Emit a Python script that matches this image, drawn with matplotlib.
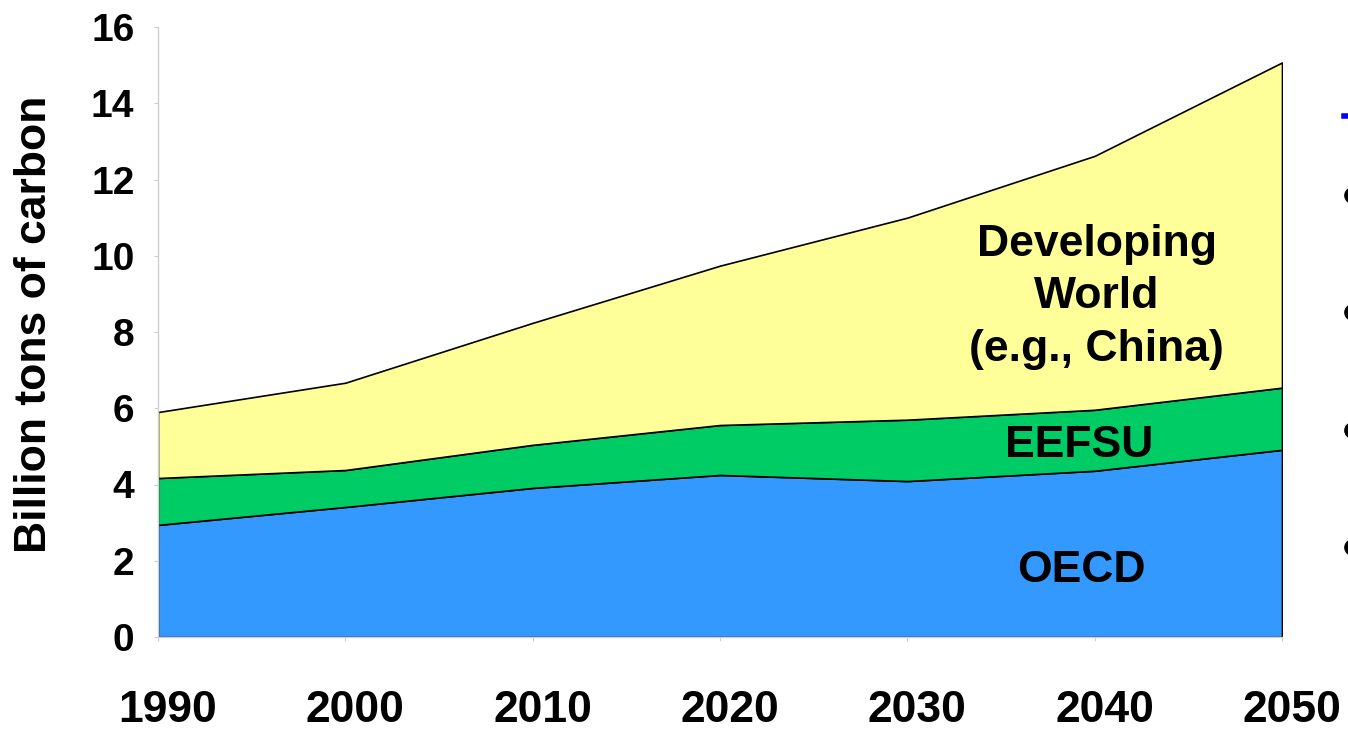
import matplotlib.pyplot as plt
import matplotlib.transforms as mtransforms
from matplotlib.lines import Line2D

# 数据
years = [1990, 2000, 2010, 2020, 2030, 2040, 2050]
oecd = [2.94, 3.41, 3.91, 4.25, 4.09, 4.36, 4.91]
eefsu = [1.23, 0.97, 1.13, 1.31, 1.61, 1.60, 1.63]
developing = [1.73, 2.29, 3.20, 4.18, 5.30, 6.66, 8.53]
y_ticks = [0, 2, 4, 6, 8, 10, 12, 14, 16]

plt.rcParams['font.family'] = ['Liberation Sans', 'DejaVu Sans']
plt.rcParams['font.weight'] = 'bold'

fig = plt.figure(figsize=(13.48, 7.31), dpi=100)
ax = fig.add_axes([158 / 1348, 1 - 637 / 731, (1282 - 158) / 1348, (637 - 27) / 731])

ax.stackplot(years, oecd, eefsu, developing,
             colors=['#3399ff', '#00cc66', '#ffff99'],
             edgecolor='black', linewidth=1.2)

ax.set_xlim(1990, 2050)
ax.set_ylim(0, 16)
ax.set_xticks(years)
ax.set_yticks(y_ticks)
ax.tick_params(axis='x', labelsize=32, pad=35, length=3, color='#cccccc')
ax.tick_params(axis='y', labelsize=28, pad=14, length=3, color='#cccccc')
for lab in ax.get_xticklabels() + ax.get_yticklabels():
    lab.set_fontweight('bold')

# x轴标签向右偏一点
offset = mtransforms.ScaledTranslation(10 / 100, 0, fig.dpi_scale_trans)
for lab in ax.get_xticklabels():
    lab.set_transform(lab.get_transform() + offset)

for s in ['top', 'right']:
    ax.spines[s].set_visible(False)
for s in ['left', 'bottom']:
    ax.spines[s].set_color('#d0d0d0')
    ax.spines[s].set_linewidth(1)

fig.text(35 / 1348, 1 - 324 / 731, 'Billion tons of carbon', rotation=90,
         fontsize=32, fontweight='bold', ha='center', va='center')

# 区域标签
ax.text(2040.1, 8.92, 'Developing\nWorld\n(e.g., China)', fontsize=32,
        fontweight='bold', ha='center', va='center', linespacing=1.37)
ax.text(2039.2, 5.02, 'EEFSU', fontsize=32, fontweight='bold', ha='center', va='center')
ax.text(2039.3, 1.74, 'OECD', fontsize=32, fontweight='bold', ha='center', va='center')

# 右边被截掉的幻灯片项目符号
fig.add_artist(Line2D([1344 / 1348, 1352 / 1348], [1 - 116 / 731, 1 - 116 / 731],
                      color='#0000ff', linewidth=4, transform=fig.transFigure))
for yy in [195, 312, 430, 547]:
    fig.add_artist(Line2D([1352 / 1348], [1 - yy / 731], marker='o', markersize=11,
                          color='black', linestyle='none', transform=fig.transFigure))

plt.savefig('out.png', dpi=100)
